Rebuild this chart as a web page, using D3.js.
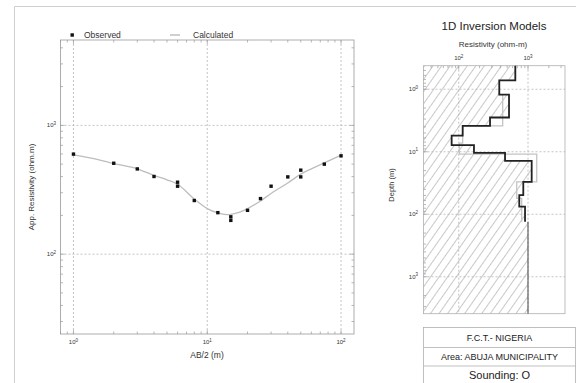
<!DOCTYPE html>
<html><head><meta charset="utf-8">
<script src="https://cdn.jsdelivr.net/npm/d3@7"></script>
<style>body{margin:0;background:#fff}svg{display:block;font-family:"Liberation Sans",Arial,sans-serif}</style>
</head><body><svg id="c" width="576" height="383"></svg>
<script>
// ---- Sounding curve data ----
const abObs  = [1,2,3,4,6,6,8,12,15,15,20,25,30,40,50,50,75,100];
const rhoObs = [598,508,459,401,362,337,261,210,195,183,219,270,337,398,449,398,500,580];
const abCalc  = [1,1.5,2,3,4,5,6,8,10,12,14,15,17,20,25,30,40,50,60,75,100];
const rhoCalc = [590,545,505,460,408,378,349,268,226,209,203,204,210,226,259,296,357,418,460,512,588];
const xDecades = [1,10,100];
const yDecades = [100,1000];
// ---- Inversion model data ----
const blackTops = [0.42,0.72,1.22,2.83,3.86,5.53,7.85,10.45,14.0,30.3,49.3,75.3];
const blackRes  = [656,385,532,283,114,79,166,466,1130,855,748,906];
const blackBottom = 132;
const grayTops = [0.42,0.72,1.22,3.86,7.29,10.9,30.3,55.7];
const grayRes  = [656,385,431,114,102,1336,687,811];
const halfRes = 1000;
const depthMax = 3900;
const resDecades = [100,1000];
const depthDecades = [1,10,100,1000];
const tableRows = ["F.C.T.- NIGERIA","Area: ABUJA MUNICIPALITY","Sounding: O"];

const svg = d3.select("#c");
const axisCol = "#9a9a9a", gridCol = "#b5b5b5";

// outer frame
svg.append("path").attr("d","M14.5,383 V6.5 H576").attr("fill","none").attr("stroke","#cfcfcf").attr("stroke-width",1);

function minorTicks(lo, hi){
  const out=[];
  for(let p=Math.floor(Math.log10(lo)); p<=Math.ceil(Math.log10(hi)); p++){
    for(let m=1;m<10;m++){const v=m*Math.pow(10,p); if(v>=lo&&v<=hi) out.push({v, major:m===1});}
  }
  return out;
}
function powLabel(g, v, x, y, anchor){
  const t=g.append("text").attr("x",x).attr("y",y).attr("text-anchor",anchor).attr("font-size",6).attr("fill","#333");
  t.append("tspan").text("10");
  t.append("tspan").attr("dy",-2.5).attr("font-size",4.5).text(Math.round(Math.log10(v)));
}

// ================= Left chart =================
const x = d3.scaleLog().domain([0.8,125]).range([60.5,354]);
const y = d3.scaleLog().domain([24,4600]).range([334,40]);
const L = svg.append("g");
// grid
L.selectAll(".gx").data(xDecades).join("line").attr("x1",d=>x(d)).attr("x2",d=>x(d)).attr("y1",40).attr("y2",334)
 .attr("stroke",gridCol).attr("stroke-width",0.8).attr("stroke-dasharray","2,2");
L.selectAll(".gy").data(yDecades).join("line").attr("y1",d=>y(d)).attr("y2",d=>y(d)).attr("x1",60.5).attr("x2",354)
 .attr("stroke",gridCol).attr("stroke-width",0.8).attr("stroke-dasharray","2,2");
// frame
L.append("rect").attr("x",60.5).attr("y",40).attr("width",293.5).attr("height",294).attr("fill","none").attr("stroke",axisCol).attr("stroke-width",0.8);
// ticks
const xt = minorTicks(0.8,125), yt = minorTicks(24,4600);
xt.forEach(t=>{const px=x(t.v), l=t.major?4:2.5;
  L.append("line").attr("x1",px).attr("x2",px).attr("y1",334).attr("y2",334-l).attr("stroke",axisCol).attr("stroke-width",0.7);
  L.append("line").attr("x1",px).attr("x2",px).attr("y1",40).attr("y2",40+l).attr("stroke",axisCol).attr("stroke-width",0.7);});
yt.forEach(t=>{const py=y(t.v), l=t.major?4:2.5;
  L.append("line").attr("y1",py).attr("y2",py).attr("x1",60.5).attr("x2",60.5+l).attr("stroke",axisCol).attr("stroke-width",0.7);
  L.append("line").attr("y1",py).attr("y2",py).attr("x1",354).attr("x2",354-l).attr("stroke",axisCol).attr("stroke-width",0.7);});
xDecades.forEach(v=>powLabel(L,v,x(v),344,"middle"));
yDecades.forEach(v=>powLabel(L,v,56,y(v)+2,"end"));
// calculated curve
L.append("path").datum(abCalc.map((a,i)=>[a,rhoCalc[i]]))
 .attr("d",d3.line().x(d=>x(d[0])).y(d=>y(d[1])).curve(d3.curveMonotoneX))
 .attr("fill","none").attr("stroke","#bdbdbd").attr("stroke-width",1.3);
// observed
L.selectAll(".obs").data(abObs.map((a,i)=>[a,rhoObs[i]])).join("rect")
 .attr("x",d=>x(d[0])-1.7).attr("y",d=>y(d[1])-1.7).attr("width",3.4).attr("height",3.4).attr("fill","#111");
// legend
L.append("rect").attr("x",70.5).attr("y",33.3).attr("width",3.4).attr("height",3.4).attr("fill","#111");
L.append("text").attr("x",84).attr("y",38).attr("font-size",8.5).attr("fill","#333").text("Observed");
L.append("line").attr("x1",170).attr("x2",180).attr("y1",35).attr("y2",35).attr("stroke","#888").attr("stroke-width",0.8);
L.append("text").attr("x",193).attr("y",38).attr("font-size",8.5).attr("fill","#333").text("Calculated");
// axis titles
L.append("text").attr("x",207).attr("y",358).attr("text-anchor","middle").attr("font-size",8.5).attr("fill","#333").text("AB/2 (m)");
L.append("text").attr("transform","translate(34,187) rotate(-90)").attr("text-anchor","middle").attr("font-size",8).attr("fill","#333").text("App. Resistivity (ohm.m)");

// ================= Right chart =================
const rx = d3.scaleLog().domain([31,3420]).range([423.5,565]);
const ry = d3.scaleLog().domain([0.42,depthMax]).range([65.7,313.7]);
const R = svg.append("g");
const defs = svg.append("defs");
const pat = defs.append("pattern").attr("id","hatch").attr("patternUnits","userSpaceOnUse").attr("width",7).attr("height",7).attr("patternTransform","rotate(35)");
pat.append("line").attr("x1",0).attr("y1",0).attr("x2",0).attr("y2",7).attr("stroke","#6e6e6e").attr("stroke-width",0.75);

function stepPts(tops,res,bottom){
  const pts=[];
  tops.forEach((t,i)=>{const b=i<tops.length-1?tops[i+1]:bottom; pts.push([res[i],t]); pts.push([res[i],b]);});
  return pts;
}
const blackPts = stepPts(blackTops,blackRes,blackBottom);
const hatchPts = [[31,0.42]].concat(blackPts,[[halfRes,blackBottom],[halfRes,depthMax],[31,depthMax]]);
const line = d3.line().x(d=>rx(d[0])).y(d=>ry(d[1]));
R.append("path").attr("d",line(hatchPts)+"Z").attr("fill","url(#hatch)");
// grid
R.selectAll(".gx").data(resDecades).join("line").attr("x1",d=>rx(d)).attr("x2",d=>rx(d)).attr("y1",65.7).attr("y2",313.7)
 .attr("stroke",gridCol).attr("stroke-width",0.8).attr("stroke-dasharray","2,2");
R.selectAll(".gy").data(depthDecades).join("line").attr("y1",d=>ry(d)).attr("y2",d=>ry(d)).attr("x1",423.5).attr("x2",565)
 .attr("stroke",gridCol).attr("stroke-width",0.8).attr("stroke-dasharray","2,2");
R.append("rect").attr("x",423.5).attr("y",65.7).attr("width",141.5).attr("height",248).attr("fill","none").attr("stroke","#b0b0b0").attr("stroke-width",0.8);
minorTicks(31,3420).forEach(t=>{const px=rx(t.v),l=t.major?4:2.5;
  R.append("line").attr("x1",px).attr("x2",px).attr("y1",65.7).attr("y2",65.7+l).attr("stroke",axisCol).attr("stroke-width",0.7);});
minorTicks(0.42,depthMax).forEach(t=>{const py=ry(t.v),l=t.major?4:2.5;
  R.append("line").attr("y1",py).attr("y2",py).attr("x1",423.5).attr("x2",423.5+l).attr("stroke",axisCol).attr("stroke-width",0.7);});
resDecades.forEach(v=>powLabel(R,v,rx(v),60,"middle"));
depthDecades.forEach(v=>powLabel(R,v,418,ry(v)+2,"end"));
// gray model
R.append("path").attr("d",line(stepPts(grayTops,grayRes,blackBottom))).attr("fill","none").attr("stroke","#c4c4c4").attr("stroke-width",1.3);
// half-space edge
R.append("path").attr("d",line([[halfRes,blackBottom],[halfRes,depthMax]])).attr("fill","none").attr("stroke","#333").attr("stroke-width",0.9);
// black model
R.append("path").attr("d",line(blackPts)).attr("fill","none").attr("stroke","#222").attr("stroke-width",1.8);
// titles
R.append("text").attr("x",494).attr("y",30).attr("text-anchor","middle").attr("font-size",11.5).attr("fill","#222").text("1D Inversion Models");
R.append("text").attr("x",493).attr("y",47).attr("text-anchor","middle").attr("font-size",8).attr("fill","#333").text("Resistivity (ohm-m)");
R.append("text").attr("transform","translate(394,185) rotate(-90)").attr("text-anchor","middle").attr("font-size",7.5).attr("fill","#333").text("Depth (m)");
// table
R.append("rect").attr("x",423.5).attr("y",327.5).attr("width",152).attr("height",60).attr("fill","none").attr("stroke","#b0b0b0").attr("stroke-width",0.8);
[347.5,366].forEach(v=>R.append("line").attr("x1",423.5).attr("x2",575.5).attr("y1",v).attr("y2",v).attr("stroke","#b0b0b0").attr("stroke-width",0.8));
tableRows.forEach((t,i)=>R.append("text").attr("x",499.5).attr("y",[341,359.5,379][i]).attr("text-anchor","middle")
  .attr("font-size",[9,9,11][i]).attr("fill","#222").text(t));
</script></body></html>
